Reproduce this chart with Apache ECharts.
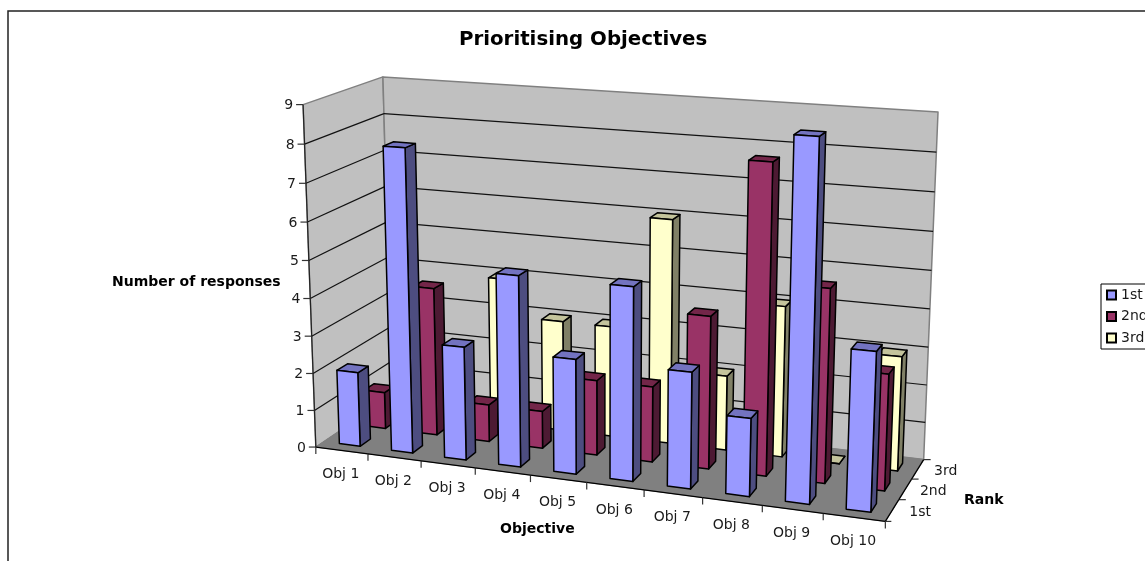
<!DOCTYPE html>
<html>
<head>
<meta charset="utf-8">
<style>html,body{margin:0;padding:0;background:#fff;overflow:hidden}#main{width:1145px;height:561px}</style>
<script src="https://cdn.jsdelivr.net/npm/echarts@6/dist/echarts.min.js"></script>
</head>
<body>
<div id="main"></div>
<script>
// Survey results: how many respondents ranked each objective 1st, 2nd or 3rd.
var objectives = ['Obj 1','Obj 2','Obj 3','Obj 4','Obj 5','Obj 6','Obj 7','Obj 8','Obj 9','Obj 10'];
var ranks = ['1st','2nd','3rd'];
var valueTicks = [0,1,2,3,4,5,6,7,8,9];
var firstChoice  = [2,8,3,5,3,5,3,2,9,4];
var secondChoice = [1,4,1,1,2,2,4,8,5,3];
var thirdChoice  = [0,0,4,3,3,6,2,4,0,3];
var maxValue = 9;

var FONT = '"DejaVu Sans", Verdana, sans-serif';

// Perspective camera for the box: unit-cube corners [x, depth, height] and where they land.
var cameraAnchors = [
  [0,0,0, 316.5,448], [1,0,0, 885,521], [0,1,0, 391,395], [1,1,0, 924,460],
  [0,0,1, 302.7,104], [0,1,1, 383.3,77.5], [1,1,1, 938,112]
];

function solveLeastSquares(A, b) {
  var n = A[0].length, M = [], i, j, k;
  for (i = 0; i < n; i++) {
    M[i] = [];
    for (j = 0; j < n; j++) {
      var s = 0;
      for (k = 0; k < A.length; k++) s += A[k][i] * A[k][j];
      M[i][j] = s;
    }
    var t = 0;
    for (k = 0; k < A.length; k++) t += A[k][i] * b[k];
    M[i][n] = t;
  }
  for (i = 0; i < n; i++) {
    var p = i;
    for (j = i + 1; j < n; j++) if (Math.abs(M[j][i]) > Math.abs(M[p][i])) p = j;
    var tmp = M[i]; M[i] = M[p]; M[p] = tmp;
    for (j = 0; j < n; j++) {
      if (j === i) continue;
      var f = M[j][i] / M[i][i];
      for (k = i; k <= n; k++) M[j][k] -= f * M[i][k];
    }
  }
  return M.map(function (row, r) { return row[n] / row[r]; });
}

var cam = (function () {
  var A = [], b = [];
  cameraAnchors.forEach(function (a) {
    var x = a[0], y = a[1], z = a[2], u = a[3], v = a[4];
    A.push([x,y,z,1,0,0,0,0,-u*x,-u*y,-u*z]); b.push(u);
    A.push([0,0,0,0,x,y,z,1,-v*x,-v*y,-v*z]); b.push(v);
  });
  return solveLeastSquares(A, b);
})();

function project(x, y, z) {
  var w = cam[8]*x + cam[9]*y + cam[10]*z + 1;
  return [(cam[0]*x + cam[1]*y + cam[2]*z + cam[3]) / w,
          (cam[4]*x + cam[5]*y + cam[6]*z + cam[7]) / w];
}
function screen(api, x, y, z) { return api.coord(project(x, y, z)); }
function poly(points, fill, stroke, width) {
  return { type: 'polygon', shape: { points: points },
           style: { fill: fill, stroke: stroke || '#000', lineWidth: width || 1.5, lineJoin: 'round' } };
}
function segment(a, b, stroke, width) {
  return { type: 'line', shape: { x1: a[0], y1: a[1], x2: b[0], y2: b[1] },
           style: { stroke: stroke || '#000', lineWidth: width || 1, fill: null } };
}
function label(p, text, align) {
  return { type: 'text', style: { x: p[0], y: p[1], text: text, fill: '#1a1a1a',
           font: '14px ' + FONT, align: align || 'center', verticalAlign: 'middle' } };
}

// Walls and floor of the box.
function renderBox(params, api) {
  var s = function (x, y, z) { return screen(api, x, y, z); };
  return { type: 'group', children: [
    poly([s(0,0,0), s(0,1,0), s(0,1,1), s(0,0,1)], '#c0c0c0', '#808080', 1.5),
    poly([s(0,1,0), s(1,1,0), s(1,1,1), s(0,1,1)], '#c0c0c0', '#808080', 1.5),
    poly([s(0,0,0), s(1,0,0), s(1,1,0), s(0,1,0)], '#808080', '#808080', 1)
  ] };
}

// Gridlines around the walls, the height axis and its labels.
function renderValueAxis(params, api) {
  var v = api.value(0), z = v / maxValue;
  var front = screen(api, 0, 0, z), back = screen(api, 0, 1, z), right = screen(api, 1, 1, z);
  var kids = [
    segment([front[0] - 7, front[1]], front, '#333', 1.2),
    label([front[0] - 10, front[1] + 1], String(v), 'right')
  ];
  if (v > 0 && v < maxValue) {
    kids.push(segment(front, back, '#111', 1.2), segment(back, right, '#111', 1.2));
  }
  if (v < maxValue) {
    kids.push(segment(front, screen(api, 0, 0, (v + 1) / maxValue), '#222', 1.2));
  }
  return { type: 'group', children: kids };
}

// Front edge of the floor with objective ticks and names.
function renderObjectiveAxis(params, api) {
  var i = api.value(0), n = objectives.length;
  var a = screen(api, i / n, 0, 0), b = screen(api, (i + 1) / n, 0, 0);
  var mid = screen(api, (i + 0.5) / n, 0, 0);
  var kids = [
    segment(a, b, '#000', 1.3),
    segment(b, [b[0], b[1] + 7], '#333', 1.2),
    label([mid[0] - 1, mid[1] + 24], objectives[i])
  ];
  if (i === 0) kids.push(segment(a, [a[0], a[1] + 7], '#333', 1.2));
  return { type: 'group', children: kids };
}

// Right edge of the floor with rank ticks and names.
function renderRankAxis(params, api) {
  var i = api.value(0), n = ranks.length;
  var a = screen(api, 1, i / n, 0), b = screen(api, 1, (i + 1) / n, 0);
  var mid = screen(api, 1, (i + 0.5) / n, 0);
  var kids = [
    segment(a, b, '#000', 1.3),
    segment(b, [b[0] + 7, b[1]], '#333', 1.2),
    label([mid[0] + 28, mid[1] + 2], ranks[i])
  ];
  if (i === 0) kids.push(segment(a, [a[0] + 6, a[1]], '#333', 1.2));
  return { type: 'group', children: kids };
}

// One column: front, right side and lid.
function columnRenderer(front, side, lid) {
  return function (params, api) {
    var cat = api.value(0), rank = api.value(1), h = api.value(2) / maxValue;
    var nx = objectives.length, ny = ranks.length, inset = 0.3;
    var x0 = (cat + inset) / nx, x1 = (cat + 1 - inset) / nx;
    var y0 = (rank + inset) / ny, y1 = (rank + 1 - inset) / ny;
    var s = function (x, y, z) { return screen(api, x, y, z); };
    return { type: 'group', children: [
      poly([s(x1,y0,0), s(x1,y1,0), s(x1,y1,h), s(x1,y0,h)], side),
      poly([s(x0,y0,h), s(x1,y0,h), s(x1,y1,h), s(x0,y1,h)], lid),
      poly([s(x0,y0,0), s(x1,y0,0), s(x1,y0,h), s(x0,y0,h)], front)
    ] };
  };
}

function columnSeries(name, rankIndex, values, front, side, lid) {
  return {
    name: name, type: 'custom', coordinateSystem: 'cartesian2d', silent: true,
    itemStyle: { color: front, borderColor: '#000', borderWidth: 1 },
    data: values.map(function (v, i) { return [i, rankIndex, v]; }),
    renderItem: columnRenderer(front, side, lid)
  };
}

function scaffold(name, data, render) {
  return { name: name, type: 'custom', coordinateSystem: 'cartesian2d', silent: true,
           data: data, renderItem: render };
}

var chart = echarts.init(document.getElementById('main'), null, { renderer: 'canvas' });
chart.setOption({
  animation: false,
  backgroundColor: '#fff',
  grid: { left: 0, right: 0, top: 0, bottom: 0 },
  xAxis: { type: 'value', min: 0, max: 1145, show: false },
  yAxis: { type: 'value', min: 0, max: 561, inverse: true, show: false },
  title: [
    { text: 'Prioritising Objectives', left: 459, top: 30,
      textStyle: { fontFamily: FONT, fontSize: 19.8, fontWeight: 'bold', color: '#000' }, padding: 0 },
    { text: 'Number of responses', left: 112, top: 275,
      textStyle: { fontFamily: FONT, fontSize: 14, fontWeight: 'bold', color: '#000' }, padding: 0 },
    { text: 'Objective', left: 500, top: 522,
      textStyle: { fontFamily: FONT, fontSize: 14, fontWeight: 'bold', color: '#000' }, padding: 0 },
    { text: 'Rank', left: 964, top: 493,
      textStyle: { fontFamily: FONT, fontSize: 14, fontWeight: 'bold', color: '#000' }, padding: 0 }
  ],
  legend: {
    data: ranks, orient: 'vertical', left: 1101, top: 284, padding: [4, 5, 4, 5],
    icon: 'rect', itemWidth: 9, itemHeight: 9, itemGap: 7.5,
    backgroundColor: '#fff', borderColor: '#000', borderWidth: 1,
    selectedMode: false,
    textStyle: { fontFamily: FONT, fontSize: 14, color: '#1a1a1a' }
  },
  graphic: [{
    type: 'rect', silent: true, z: -1,
    shape: { x: 8, y: 11, width: 1400, height: 800 },
    style: { fill: null, stroke: '#222', lineWidth: 1.5 }
  }],
  series: [
    scaffold('box', [[0]], renderBox),
    scaffold('valueAxis', valueTicks.map(function (v) { return [v]; }), renderValueAxis),
    scaffold('objectiveAxis', objectives.map(function (o, i) { return [i]; }), renderObjectiveAxis),
    scaffold('rankAxis', ranks.map(function (r, i) { return [i]; }), renderRankAxis),
    columnSeries(ranks[2], 2, thirdChoice,  '#ffffcc', '#808066', '#c4c49c'),
    columnSeries(ranks[1], 1, secondChoice, '#993366', '#4d1a33', '#732649'),
    columnSeries(ranks[0], 0, firstChoice,  '#9999ff', '#4d4d80', '#7373c0')
  ]
});
</script>
</body>
</html>
